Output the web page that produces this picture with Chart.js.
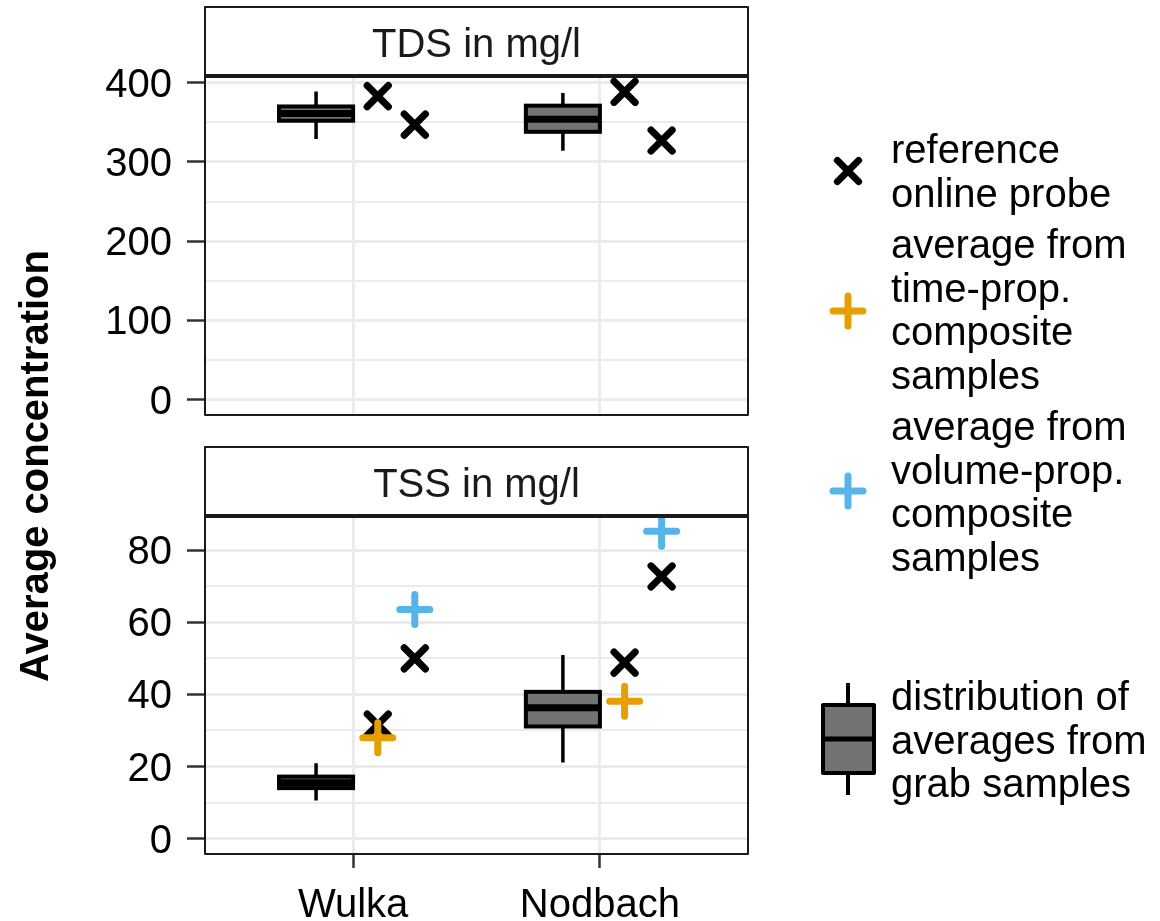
<!DOCTYPE html>
<html><head><meta charset="utf-8">
<script src="https://cdn.jsdelivr.net/npm/chart.js@4/dist/chart.umd.min.js"></script>
<style>
html,body{margin:0;padding:0;background:#fff;}
#wrap{position:relative;width:1160px;height:921px;}
canvas{position:absolute;left:0;top:0;}
</style></head><body>
<div id="wrap"><canvas id="c1" width="1160" height="921"></canvas><canvas id="c2" width="1160" height="921"></canvas></div>
<script>
// ---------------- data ----------------
const sites = ['Wulka', 'Nodbach'];

// TDS in mg/l
const tdsBoxMin    = [329, 314];
const tdsBoxQ1     = [352, 338];
const tdsBoxMedian = [361, 354];
const tdsBoxQ3     = [370, 371];
const tdsBoxMax    = [389, 387];
const tdsReferenceA = [383, 388.5];
const tdsReferenceB = [347, 327];
const tdsMajorTicks = [0, 100, 200, 300, 400];
const tdsMinorTicks = [50, 150, 250, 350];

// TSS in mg/l
const tssBoxMin    = [10.6, 21.1];
const tssBoxQ1     = [14.0, 31.1];
const tssBoxMedian = [15.5, 36.3];
const tssBoxQ3     = [17.2, 40.7];
const tssBoxMax    = [20.9, 50.9];
const tssReferenceA = [31.6, 48.8];
const tssReferenceB = [50.0, 72.7];
const tssTimeProp   = [28.0, 38.1];
const tssVolumeProp = [63.5, 85.2];
const tssMajorTicks = [0, 20, 40, 60, 80];
const tssMinorTicks = [10, 30, 50, 70];

// ---------------- styling / layout ----------------
const FONT = "'Liberation Sans', Arial, Helvetica, sans-serif";
const FS = 40;
const ORANGE = '#E69F00', BLUE = '#56B4E9', BOXFILL = '#737373';
const X_MIN = 0.4, X_MAX = 2.6;
const BOX_OFFSET = -0.15, BOX_WIDTH = 0.30, INNER_OFFSET = 0.1, OUTER_OFFSET = 0.25;
const PANEL_LEFT = 205, PANEL_RIGHT = 748, STRIP_H = 69;

function pts(values, offset) { return values.map((v, i) => ({x: i + 1 + offset, y: v})); }
function markerDataset(values, offset, style, color, order) {
  return {data: pts(values, offset), pointStyle: style, pointRadius: 15, pointHoverRadius: 15,
    pointBorderWidth: 7, pointHoverBorderWidth: 7, pointBorderColor: color, pointBackgroundColor: color,
    borderColor: color, backgroundColor: color, showLine: false, clip: false, order};
}
function limits(arrs) {
  const m = Math.max(...arrs.flat());
  return {min: -0.05 * m, max: 1.05 * m};
}

function makeBoxPlugin(st) {
  return {id: 'boxes', beforeDatasetsDraw(chart) {
    const {ctx} = chart; const x = chart.scales.x, y = chart.scales.y;
    ctx.save();
    st.min.forEach((_, i) => {
      const c = i + 1 + BOX_OFFSET;
      const xl = x.getPixelForValue(c - BOX_WIDTH / 2), xr = x.getPixelForValue(c + BOX_WIDTH / 2), xc = x.getPixelForValue(c);
      const yMin = y.getPixelForValue(st.min[i]), yQ1 = y.getPixelForValue(st.q1[i]),
            yMed = y.getPixelForValue(st.med[i]), yQ3 = y.getPixelForValue(st.q3[i]), yMax = y.getPixelForValue(st.max[i]);
      ctx.strokeStyle = '#000'; ctx.lineCap = 'butt';
      ctx.lineWidth = 3.5;
      ctx.beginPath(); ctx.moveTo(xc, yMax); ctx.lineTo(xc, yQ3); ctx.moveTo(xc, yQ1); ctx.lineTo(xc, yMin); ctx.stroke();
      ctx.fillStyle = BOXFILL; ctx.fillRect(xl, yQ3, xr - xl, yQ1 - yQ3);
      ctx.lineWidth = 4; ctx.strokeRect(xl, yQ3, xr - xl, yQ1 - yQ3);
      ctx.lineWidth = 7; ctx.beginPath(); ctx.moveTo(xl, yMed); ctx.lineTo(xr, yMed); ctx.stroke();
    });
    ctx.restore();
    ctx.lineCap = 'round'; ctx.lineJoin = 'round';
  }};
}

function makeFramePlugin(title) {
  return {id: 'frame', afterDraw(chart) {
    const {ctx, chartArea: a} = chart;
    ctx.save(); ctx.lineCap = 'butt';
    ctx.fillStyle = '#fff';
    ctx.fillRect(a.left - 1, a.top - STRIP_H, a.right - a.left + 2, STRIP_H);
    ctx.strokeStyle = '#1a1a1a'; ctx.lineWidth = 2;
    ctx.strokeRect(a.left, a.top, a.right - a.left, a.bottom - a.top);
    ctx.strokeRect(a.left, a.top - STRIP_H, a.right - a.left, STRIP_H);
    ctx.lineWidth = 4;
    ctx.beginPath(); ctx.moveTo(a.left, a.top); ctx.lineTo(a.right, a.top); ctx.stroke();
    ctx.fillStyle = '#1a1a1a'; ctx.font = FS + 'px ' + FONT; ctx.textAlign = 'center'; ctx.textBaseline = 'alphabetic';
    ctx.fillText(title, (a.left + a.right) / 2, a.top - STRIP_H + 50);
    ctx.restore();
  }};
}

function drawMarker(ctx, style, color, x, y) {
  ctx.save(); ctx.strokeStyle = color; ctx.fillStyle = color; ctx.lineWidth = 7; ctx.lineCap = 'round';
  Chart.helpers.drawPoint(ctx, {pointStyle: style, radius: 15, rotation: 0, borderWidth: 7}, x, y);
  ctx.restore();
}

const legendPlugin = {id: 'customLegend', afterDraw(chart) {
  const ctx = chart.ctx;
  ctx.save();
  ctx.font = FS + 'px ' + FONT; ctx.fillStyle = '#000'; ctx.textAlign = 'left'; ctx.textBaseline = 'alphabetic';
  const tx = 891, step = 43.6;
  const groups = [
    {lines: ['reference', 'online probe'], y0: 163, sy: 171, style: 'crossRot', color: '#000'},
    {lines: ['average from', 'time-prop.', 'composite', 'samples'], y0: 258, sy: 311, style: 'cross', color: ORANGE},
    {lines: ['average from', 'volume-prop.', 'composite', 'samples'], y0: 440, sy: 491, style: 'cross', color: BLUE},
    {lines: ['distribution of', 'averages from', 'grab samples'], y0: 710, sy: 740, style: 'box'}
  ];
  groups.forEach(g => {
    g.lines.forEach((t, k) => ctx.fillText(t, tx, g.y0 + k * step));
    if (g.style === 'box') {
      ctx.save(); ctx.strokeStyle = '#000'; ctx.lineCap = 'butt';
      ctx.lineWidth = 4;
      ctx.beginPath(); ctx.moveTo(848, 683); ctx.lineTo(848, 705); ctx.moveTo(848, 773); ctx.lineTo(848, 795); ctx.stroke();
      ctx.fillStyle = BOXFILL; ctx.fillRect(823, 705, 51, 68);
      ctx.strokeRect(823, 705, 51, 68);
      ctx.lineWidth = 5; ctx.beginPath(); ctx.moveTo(823, 739); ctx.lineTo(874, 739); ctx.stroke();
      ctx.restore();
    } else {
      drawMarker(ctx, g.style, g.color, 848, g.sy);
    }
  });
  ctx.restore();
}};

const yTitlePlugin = {id: 'yTitle', afterDraw(chart) {
  const ctx = chart.ctx;
  ctx.save();
  ctx.translate(37, 466); ctx.rotate(-Math.PI / 2);
  ctx.font = 'bold ' + FS + 'px ' + FONT; ctx.fillStyle = '#000'; ctx.textAlign = 'center'; ctx.textBaseline = 'middle';
  ctx.fillText('Average concentration', 0, 0);
  ctx.restore();
}};

function buildChart(id, o) {
  const major = o.major, all = [...o.major, ...o.minor].sort((a, b) => a - b);
  const isMajor = c => c && c.tick && major.includes(c.tick.value);
  return new Chart(document.getElementById(id), {
    type: 'scatter',
    data: {datasets: o.datasets},
    options: {
      responsive: false, animation: false, events: [],
      layout: {padding: {left: 0, top: o.top, right: 1160 - PANEL_RIGHT, bottom: 0}},
      plugins: {legend: {display: false}, tooltip: {enabled: false}},
      scales: {
        x: {type: 'linear', min: X_MIN, max: X_MAX,
          afterFit(s) { s.height = 921 - o.bottom; },
          afterBuildTicks(s) { s.ticks = sites.map((_, i) => ({value: i + 1})); },
          ticks: {display: o.showX, autoSkip: false, maxRotation: 0, padding: 14,
            callback: v => sites[Math.round(v) - 1], font: {family: FONT, size: FS}, color: '#000'},
          grid: {color: '#EBEBEB', lineWidth: 3, drawTicks: o.showX, tickLength: 14, tickColor: '#333', tickWidth: 2.5},
          border: {display: false}},
        y: {type: 'linear', min: o.lim.min, max: o.lim.max,
          afterFit(s) { s.width = PANEL_LEFT; },
          afterBuildTicks(s) { s.ticks = all.map(v => ({value: v})); },
          ticks: {autoSkip: false, padding: 15, labelOffset: 3, callback: v => major.includes(v) ? String(v) : '',
            font: {family: FONT, size: FS}, color: '#000'},
          grid: {color: '#EBEBEB', lineWidth: c => isMajor(c) ? 3 : 2, tickLength: 18,
            tickColor: c => isMajor(c) ? '#333' : 'rgba(0,0,0,0)', tickWidth: 2.5},
          border: {display: false}}
      }
    },
    plugins: o.plugins
  });
}

buildChart('c1', {
  top: 76, bottom: 415, showX: false,
  major: tdsMajorTicks, minor: tdsMinorTicks,
  lim: limits([tdsBoxMin, tdsBoxMax, tdsReferenceA, tdsReferenceB]),
  datasets: [
    markerDataset(tdsReferenceA, INNER_OFFSET, 'crossRot', '#000', 1),
    markerDataset(tdsReferenceB, OUTER_OFFSET, 'crossRot', '#000', 1)
  ],
  plugins: [makeBoxPlugin({min: tdsBoxMin, q1: tdsBoxQ1, med: tdsBoxMedian, q3: tdsBoxQ3, max: tdsBoxMax}),
            makeFramePlugin('TDS in mg/l'), legendPlugin]
});

buildChart('c2', {
  top: 516, bottom: 854, showX: true,
  major: tssMajorTicks, minor: tssMinorTicks,
  lim: limits([tssBoxMin, tssBoxMax, tssReferenceA, tssReferenceB, tssTimeProp, tssVolumeProp]),
  datasets: [
    markerDataset(tssTimeProp, INNER_OFFSET, 'cross', ORANGE, 0),
    markerDataset(tssVolumeProp, OUTER_OFFSET, 'cross', BLUE, 0),
    markerDataset(tssReferenceA, INNER_OFFSET, 'crossRot', '#000', 1),
    markerDataset(tssReferenceB, OUTER_OFFSET, 'crossRot', '#000', 1)
  ],
  plugins: [makeBoxPlugin({min: tssBoxMin, q1: tssBoxQ1, med: tssBoxMedian, q3: tssBoxQ3, max: tssBoxMax}),
            makeFramePlugin('TSS in mg/l'), yTitlePlugin]
});
</script>
</body></html>
